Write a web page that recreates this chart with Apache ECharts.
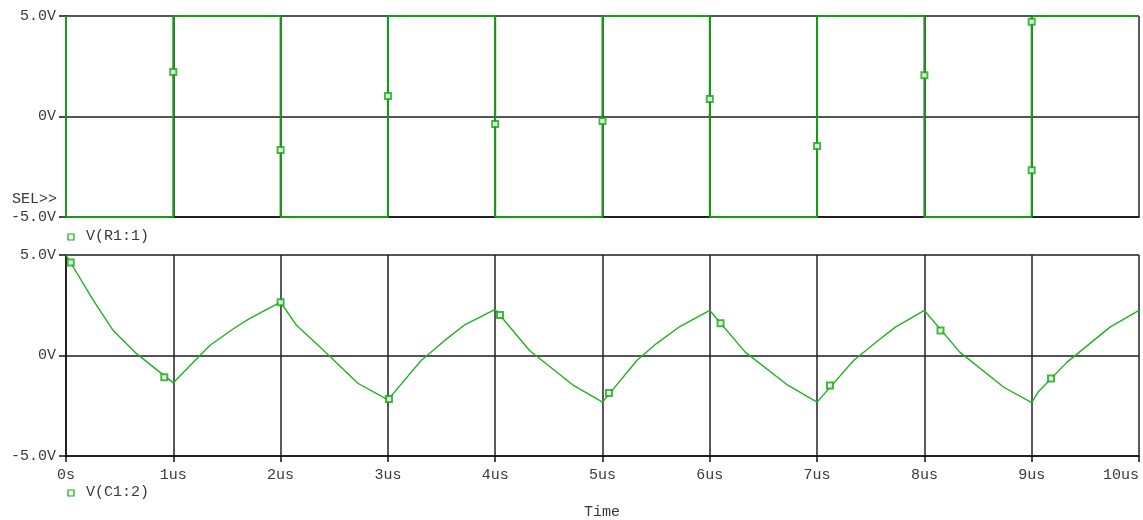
<!DOCTYPE html>
<html>
<head>
<meta charset="utf-8">
<script src="https://cdn.jsdelivr.net/npm/echarts@6/dist/echarts.min.js"></script>
<style>html,body{margin:0;padding:0;background:#fff}#c{width:1143px;height:520px}</style>
</head>
<body>
<div id="c"></div>
<script>
// Time ticks (us) and labels
const timeTicks = [0,1,2,3,4,5,6,7,8,9,10];
const timeLabels = ['0s','1us','2us','3us','4us','5us','6us','7us','8us','9us','10us'];
const voltLabels = {'5':'5.0V','0':'0V','-5':'-5.0V'};

// V(R1:1) square wave: [time us, volts]
const r1Trace = [
  [0,5],[0,-5],[1,-5],[1,5],[2,5],[2,-5],[3,-5],[3,5],[4,5],[4,-5],
  [5,-5],[5,5],[6,5],[6,-5],[7,-5],[7,5],[8,5],[8,-5],[9,-5],[9,5],[10,5]
];
const r1Markers = [
  [1,2.22],[2,-1.67],[3,1.02],[4,-0.37],[5,-0.22],[6,0.87],[7,-1.47],[8,2.05],[9,4.72],[9,-2.68]
];

// V(C1:2) capacitor voltage
const c1Trace = [
  [0,5.0],[0.255,2.74],[0.44,1.24],[0.66,0.08],[1.0,-1.36],
  [1.34,0.5],[1.56,1.33],[1.71,1.83],[2.0,2.65],
  [2.15,1.49],[2.37,0.41],[2.72,-1.38],[3.0,-2.21],
  [3.31,-0.25],[3.53,0.75],[3.72,1.54],[4.0,2.29],
  [4.32,0.25],[4.73,-1.49],[5.0,-2.32],
  [5.32,-0.25],[5.5,0.58],[5.72,1.44],[6.0,2.24],
  [6.33,0.17],[6.73,-1.49],[7.0,-2.32],
  [7.34,-0.25],[7.59,0.83],[7.73,1.41],[8.0,2.24],
  [8.33,0.17],[8.74,-1.58],[9.0,-2.35],
  [9.06,-1.82],[9.33,-0.33],[9.73,1.41],[10.0,2.24]
];
const c1Markers = [
  [0.044,4.63],[0.916,-1.08],[2.0,2.65],[3.01,-2.17],[4.045,2.02],
  [5.06,-1.87],[6.1,1.61],[7.12,-1.49],[8.15,1.24],[9.18,-1.14]
];

const FONT = 'Liberation Mono';
const TXT = '#3a3a3a';
const MARK = '#10a810';
const chart = echarts.init(document.getElementById('c'));

function xAxisCfg(idx, showLabels){
  return {
    type:'value', gridIndex:idx, min:0, max:10, interval:1,
    axisLine:{show:true, onZero:false, lineStyle:{color:'#111', width:1.5}},
    axisTick:{show:showLabels, length:6, lineStyle:{color:'#111', width:1.5}},
    axisLabel:{show:showLabels, margin:12, fontFamily:FONT, fontSize:15, color:TXT,
      alignMaxLabel:'right', hideOverlap:false,
      formatter:v=>timeLabels[timeTicks.indexOf(v)]},
    splitLine:{show:true, lineStyle:{color:'#222', width:1.5}}
  };
}
function yAxisCfg(idx){
  return {
    type:'value', gridIndex:idx, min:-5, max:5, interval:5,
    axisLine:{show:true, lineStyle:{color:'#111', width:1.5}},
    axisTick:{show:true, length:7, lineStyle:{color:'#111', width:1.5}},
    axisLabel:{margin:10, fontFamily:FONT, fontSize:15, color:TXT,
      formatter:v=>voltLabels[String(v)]},
    splitLine:{show:true, lineStyle:{color:'#555', width:2}}
  };
}

chart.setOption({
  animation:false,
  backgroundColor:'#fff',
  grid:[
    {left:66, right:4, top:16, height:201, outerBoundsMode:'none', containLabel:false},
    {left:66, right:4, top:255, height:201, outerBoundsMode:'none', containLabel:false}
  ],
  xAxis:[xAxisCfg(0,false), xAxisCfg(1,true)],
  yAxis:[yAxisCfg(0), yAxisCfg(1)],
  series:[
    {type:'line', xAxisIndex:0, yAxisIndex:0, data:r1Trace, showSymbol:false,
      lineStyle:{color:'#179c17', width:2}, z:3},
    {type:'scatter', xAxisIndex:0, yAxisIndex:0, data:r1Markers, symbol:'emptyRect',
      symbolSize:6, itemStyle:{color:MARK, borderWidth:1.3}, z:4},
    {type:'line', xAxisIndex:1, yAxisIndex:1, data:c1Trace, showSymbol:false,
      lineStyle:{color:'#22b022', width:1.4}, z:3},
    {type:'scatter', xAxisIndex:1, yAxisIndex:1, data:c1Markers, symbol:'emptyRect',
      symbolSize:6, itemStyle:{color:MARK, borderWidth:1.3}, z:4}
  ],
  graphic:[
    {type:'text', left:12, top:192, style:{text:'SEL>>', font:'15px "Liberation Mono"', fill:TXT}},
    {type:'rect', shape:{x:68, y:234, width:6, height:6}, style:{fill:'#fff', stroke:MARK, lineWidth:1.2}},
    {type:'text', left:86, top:229, style:{text:'V(R1:1)', font:'15px "Liberation Mono"', fill:TXT}},
    {type:'rect', shape:{x:68, y:490, width:6, height:6}, style:{fill:'#fff', stroke:MARK, lineWidth:1.2}},
    {type:'text', left:86, top:485, style:{text:'V(C1:2)', font:'15px "Liberation Mono"', fill:TXT}},
    {type:'text', left:584, top:505, style:{text:'Time', font:'15px "Liberation Mono"', fill:TXT}}
  ]
});
</script>
</body>
</html>
